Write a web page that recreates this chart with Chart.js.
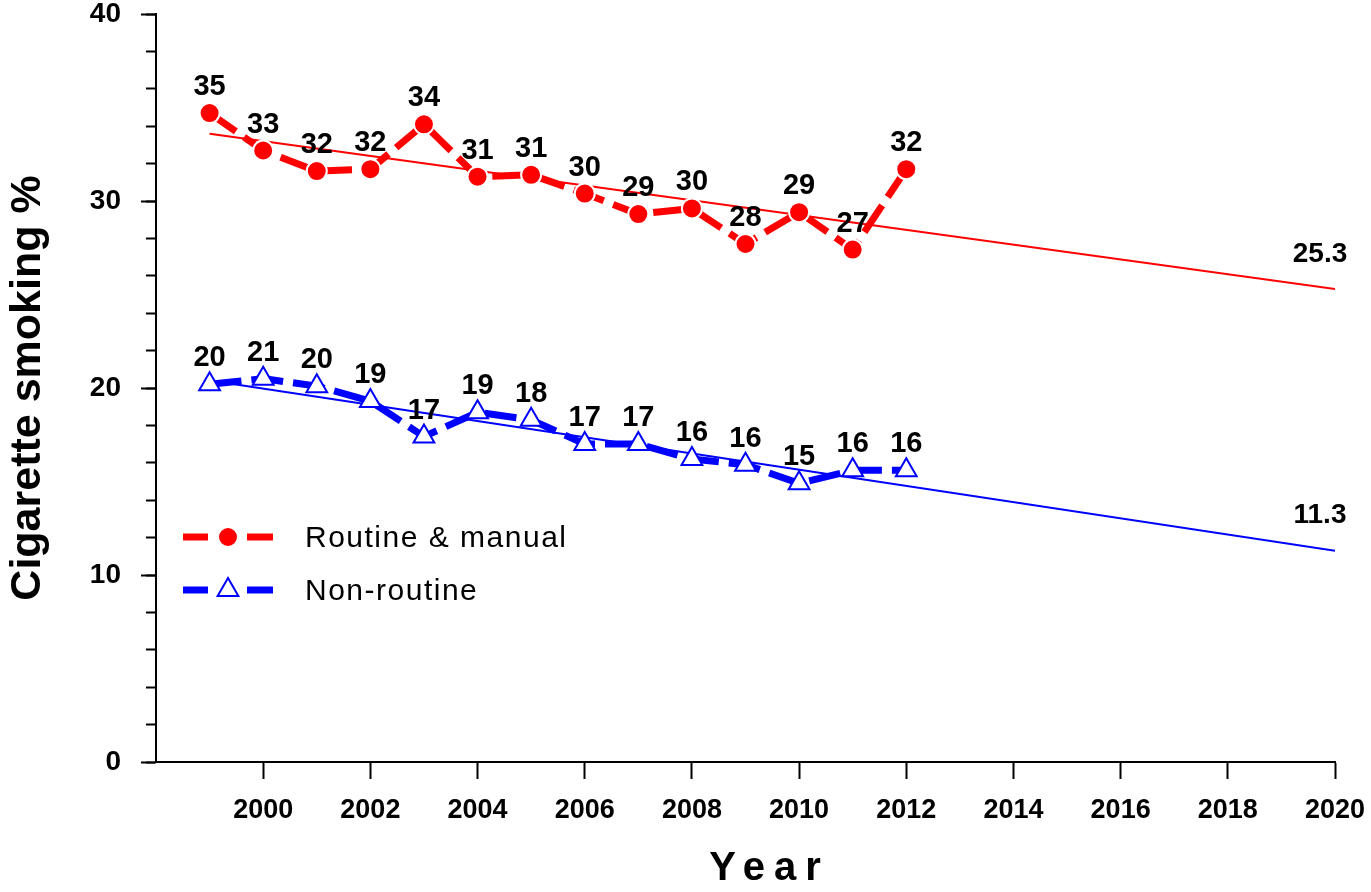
<!DOCTYPE html>
<html>
<head>
<meta charset="utf-8">
<script src="https://cdn.jsdelivr.net/npm/chart.js@4.4.1/dist/chart.umd.min.js"></script>
<style>
  body { margin: 0; background: #fff; }
  canvas { display: block; }
</style>
</head>
<body>
<canvas id="smokingChart" width="1371" height="892"></canvas>
<script>
// data
const years = [1999, 2000, 2001, 2002, 2003, 2004, 2005, 2006, 2007, 2008, 2009, 2010, 2011, 2012];
const routineManual = [34.7, 32.7, 31.6, 31.7, 34.1, 31.3, 31.4, 30.4, 29.3, 29.6, 27.7, 29.4, 27.4, 31.7];
const routineLabels = ["35", "33", "32", "32", "34", "31", "31", "30", "29", "30", "28", "29", "27", "32"];
const nonRoutine = [20.2, 20.5, 20.1, 19.3, 17.4, 18.7, 18.3, 17.0, 17.0, 16.2, 15.9, 14.9, 15.6, 15.6];
const nonRoutineLabels = ["20", "21", "20", "19", "17", "19", "18", "17", "17", "16", "16", "15", "16", "16"];
const trendYears = [1999, 2020];
const routineTrend = [33.6, 25.3];
const nonRoutineTrend = [20.4, 11.3];
const trendLabels = ["25.3", "11.3"];

const RED = "#ff0000";
const BLUE = "#0000ff";
const sans = "'Liberation Sans', Arial, sans-serif";

const toPoints = (xs, ys) => xs.map((x, i) => ({ x: x, y: ys[i] }));

// numbers above the points + projected values at the trend ends
const valueLabels = {
  id: "valueLabels",
  afterDatasetsDraw(chart) {
    const ctx = chart.ctx;
    chart.data.datasets.forEach((ds, i) => {
      const meta = chart.getDatasetMeta(i);
      ctx.save();
      ctx.fillStyle = "#000";
      ctx.textAlign = "center";
      ctx.textBaseline = "middle";
      if (ds.valueLabels) {
        ctx.font = "bold 29px " + sans;
        meta.data.forEach((pt, j) => {
          ctx.fillText(ds.valueLabels[j], pt.x, pt.y - 26);
        });
      }
      if (ds.endLabel) {
        const last = meta.data[meta.data.length - 1];
        ctx.font = "bold 28px " + sans;
        ctx.fillText(ds.endLabel, last.x - 15, last.y - 35);
      }
      ctx.restore();
    });
  },
};

// legend sitting inside the plot area, and the spaced-out x title
const insideLegend = {
  id: "insideLegend",
  afterDraw(chart) {
    const ctx = chart.ctx;
    const left = chart.chartArea.left;
    const rows = [
      { y: 537, ds: chart.data.datasets[0] },
      { y: 590, ds: chart.data.datasets[1] },
    ];
    rows.forEach((row) => {
      const ds = row.ds;
      ctx.save();
      ctx.strokeStyle = ds.borderColor;
      ctx.lineWidth = 7;
      ctx.beginPath();
      ctx.moveTo(left + 27, row.y);
      ctx.lineTo(left + 52, row.y);
      ctx.moveTo(left + 91, row.y);
      ctx.lineTo(left + 117, row.y);
      ctx.stroke();
      ctx.fillStyle = ds.pointBackgroundColor;
      ctx.strokeStyle = ds.pointBorderColor;
      ctx.lineWidth = ds.pointBorderWidth;
      Chart.helpers.drawPoint(ctx, {
        pointStyle: ds.pointStyle,
        radius: ds.pointRadius,
        borderWidth: ds.pointBorderWidth,
      }, left + 72, row.y);
      ctx.fillStyle = "#000";
      ctx.font = "30px " + sans;
      ctx.letterSpacing = "1.5px";
      ctx.textAlign = "left";
      ctx.textBaseline = "middle";
      ctx.fillText(ds.label, left + 149, row.y + 2);
      ctx.restore();
    });

    const xs = chart.scales.x;
    ctx.save();
    ctx.fillStyle = "#000";
    ctx.font = "bold 40px " + sans;
    ctx.letterSpacing = "9px";
    ctx.textAlign = "center";
    ctx.textBaseline = "middle";
    ctx.fillText("Year", (xs.left + xs.right) / 2 + 24, xs.bottom - 23);
    ctx.restore();
  },
};

const ctxSmoking = document.getElementById("smokingChart").getContext("2d");
const smokingChart = new Chart(ctxSmoking, {
  type: "line",
  data: {
    datasets: [
      {
        label: "Routine & manual",
        data: toPoints(years, routineManual),
        valueLabels: routineLabels,
        borderColor: RED,
        borderWidth: 7,
        borderDash: [32, 10],
        pointStyle: "circle",
        pointRadius: 10,
        pointBackgroundColor: RED,
        pointBorderColor: "#fff",
        pointBorderWidth: 2,
        tension: 0,
      },
      {
        label: "Non-routine",
        data: toPoints(years, nonRoutine),
        valueLabels: nonRoutineLabels,
        borderColor: BLUE,
        borderWidth: 7,
        borderDash: [32, 10],
        pointStyle: "triangle",
        pointRadius: 12,
        pointBackgroundColor: "#fff",
        pointBorderColor: BLUE,
        pointBorderWidth: 2,
        tension: 0,
      },
      {
        label: "Routine & manual trend",
        data: toPoints(trendYears, routineTrend),
        endLabel: trendLabels[0],
        borderColor: RED,
        borderWidth: 2,
        pointRadius: 0,
      },
      {
        label: "Non-routine trend",
        data: toPoints(trendYears, nonRoutineTrend),
        endLabel: trendLabels[1],
        borderColor: BLUE,
        borderWidth: 2,
        pointRadius: 0,
      },
    ],
  },
  options: {
    responsive: false,
    animation: false,
    layout: { padding: { top: 13, right: 36, left: 0, bottom: 0 } },
    scales: {
      x: {
        type: "linear",
        min: 1998,
        max: 2020,
        afterBuildTicks: (scale) => {
          scale.ticks = scale.ticks.filter((t) => t.value !== 1998);
        },
        afterFit: (scale) => {
          scale.height = 130;
          scale.paddingLeft = 0;
          scale.paddingRight = 0;
        },
        ticks: {
          stepSize: 2,
          autoSkip: false,
          maxRotation: 0,
          padding: 15,
          color: "#000",
          font: { family: sans, size: 27, weight: "bold" },
          callback: (v) => String(v),
        },
        grid: {
          drawOnChartArea: false,
          tickLength: 17,
          tickWidth: 2,
          tickColor: "#000",
        },
        border: { color: "#000", width: 2 },
        title: { display: false },
      },
      y: {
        position: "left",
        weight: 1,
        min: 0,
        max: 40,
        afterFit: (scale) => {
          scale.width = 156;
          scale.paddingTop = 0;
          scale.paddingBottom = 0;
        },
        ticks: {
          stepSize: 10,
          padding: 20,
          color: "#000",
          font: { family: sans, size: 28, weight: "bold" },
        },
        grid: {
          drawOnChartArea: false,
          tickLength: 15,
          tickWidth: 2,
          tickColor: "#000",
        },
        border: { color: "#000", width: 2 },
        title: {
          display: true,
          text: "Cigarette smoking %",
          color: "#000",
          font: { family: sans, size: 43, weight: "bold" },
          padding: { top: 2, bottom: 0 },
        },
      },
      yMinor: {
        position: "left",
        weight: 0,
        min: 0,
        max: 40,
        afterFit: (scale) => {
          scale.width = 0;
          scale.paddingTop = 0;
          scale.paddingBottom = 0;
        },
        ticks: { stepSize: 2, display: false },
        grid: {
          drawOnChartArea: false,
          tickLength: 10,
          tickWidth: 2,
          tickColor: "#000",
        },
        border: { display: false },
      },
    },
    plugins: {
      legend: { display: false },
      tooltip: { enabled: false },
    },
  },
  plugins: [valueLabels, insideLegend],
});
</script>
</body>
</html>
